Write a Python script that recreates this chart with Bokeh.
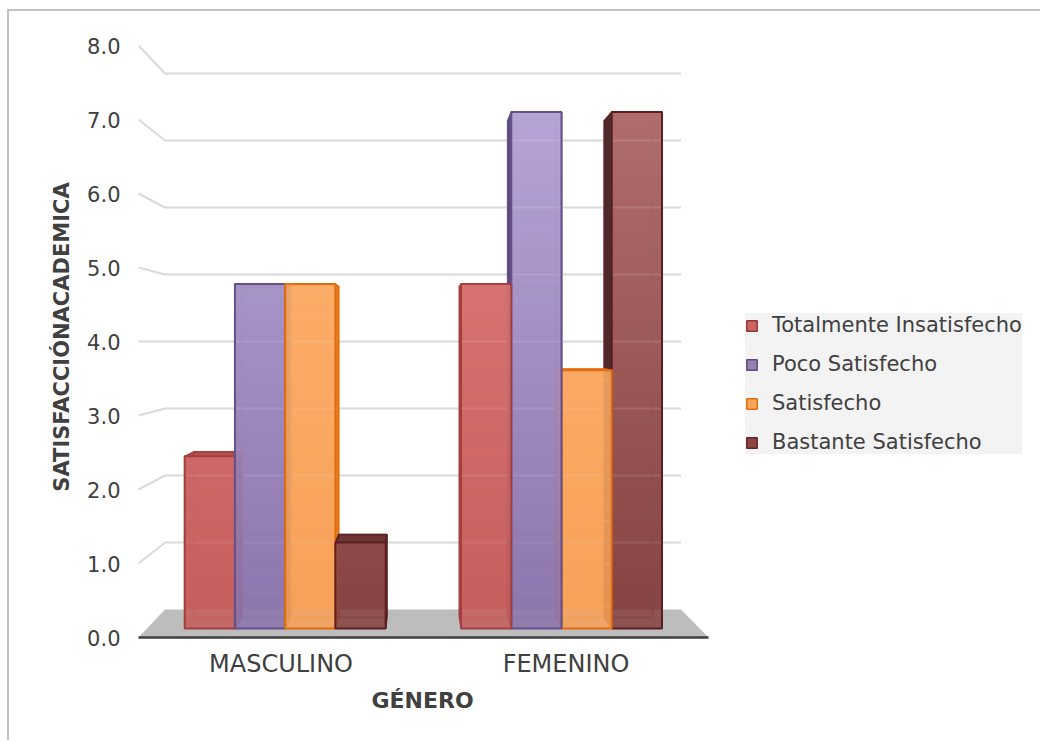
import numpy as np
from bokeh.plotting import figure
from bokeh.models import (Range1d, FixedTicker, NumeralTickFormatter, Legend,
                          LegendItem, Title)
from bokeh.embed import file_html
from bokeh.resources import INLINE

# ---- data -------------------------------------------------------------
categories = ["MASCULINO", "FEMENINO"]
series_names = ["Totalmente Insatisfecho", "Poco Satisfecho", "Satisfecho",
                "Bastante Satisfecho"]
totalmente_insatisfecho = [2.4, 4.8]
poco_satisfecho = [4.8, 7.2]
satisfecho = [4.8, 3.6]
bastante_satisfecho = [1.2, 7.2]
y_ticks = [0, 1, 2, 3, 4, 5, 6, 7, 8]

series_values = [totalmente_insatisfecho, poco_satisfecho, satisfecho,
                 bastante_satisfecho]

# ---- styling ------------------------------------------------------------
# gradient from the floor (dark) to the top of the axis (light), plus edges
styles = [
    dict(dark="#c45d5c", light="#e68484", edge="#a33f3d", side="#9c4544",
         top="#b4504e", legend="#cd6563", legend_edge="#943634"),
    dict(dark="#8a73aa", light="#c1aee0", edge="#64508a", side="#5b4a78",
         top="#7e689e", legend="#9580b2", legend_edge="#5f497a"),
    dict(dark="#f7a058", light="#fcb676", edge="#e46c0a", side="#e5852c",
         top="#f39a4c", legend="#f9a65a", legend_edge="#e46c0a"),
    dict(dark="#864343", light="#bb7878", edge="#5c1f1f", side="#4e2b2b",
         top="#6e3434", legend="#8b4646", legend_edge="#632523"),
]
FONT = "DejaVu Sans"
TEXT = "#404040"

# ---- simple perspective box model --------------------------------------
BAR_W = 1 / 5.5          # bar width in category units
Z_FRONT, Z_BACK = 0.3, 0.7
PERSP = 0.1045
VP_U, VP_V = 0.4825, 4.0
U_MIN, U_MAX = -0.5, 1.5


def project(u, v, z):
    s = 1.0 / (1.0 + PERSP * z)
    return VP_U + (u - VP_U) * s, VP_V + (v - VP_V) * s


def hexmix(c1, c2, t):
    a = np.array([int(c1[i:i + 2], 16) for i in (1, 3, 5)], float)
    b = np.array([int(c2[i:i + 2], 16) for i in (1, 3, 5)], float)
    c = a + (b - a) * t
    return "#%02x%02x%02x" % tuple(int(round(x)) for x in c)


p = figure(width=1033, height=731, output_backend="svg", toolbar_location=None,
           x_range=Range1d(-0.5351, 2.6719), y_range=Range1d(-0.054, 8.1757),
           min_border_left=119, min_border_top=21, min_border_right=0,
           min_border_bottom=101)
p.styles = {"margin-left": "7px", "margin-top": "9px",
            "border-left": "2px solid #c3c3c3", "border-top": "2px solid #c3c3c3"}
p.outline_line_color = None
p.grid.visible = False
p.background_fill_color = "white"
p.border_fill_color = "white"

# axes
p.yaxis.ticker = FixedTicker(ticks=y_ticks)
p.yaxis.formatter = NumeralTickFormatter(format="0.0")
p.xaxis.ticker = FixedTicker(ticks=[0, 1])
p.xaxis.major_label_overrides = {0: categories[0], 1: categories[1]}
for ax in (p.xaxis, p.yaxis):
    ax.axis_line_color = None
    ax.major_tick_line_color = None
    ax.minor_tick_line_color = None
    ax.major_label_text_font = FONT
    ax.major_label_text_color = TEXT
    ax.axis_label_text_font = FONT
    ax.axis_label_text_font_style = "bold"
    ax.axis_label_text_color = TEXT
p.yaxis.major_label_text_font_size = "21px"
p.yaxis.major_label_standoff = 2
p.yaxis.axis_label = "SATISFACCIÓNACADEMICA"
p.yaxis.axis_label_text_font_size = "21px"
p.yaxis.axis_label_standoff = 10
p.xaxis.major_label_text_font_size = "24px"
p.xaxis.major_label_standoff = 2

# horizontal axis title, centred under the floor of the chart
x_title = Title(text="GÉNERO", align="left", offset=243, standoff=10,
                text_font=FONT, text_font_size="22px", text_font_style="bold",
                text_color=TEXT)
p.add_layout(x_title, "below")

# legend colour swatches double as an opaque base under each front face
base_renderers = []
for k in range(len(series_names)):
    lefts, rights, bottoms, tops = [], [], [], []
    for g in range(len(categories)):
        u0 = g - 2 * BAR_W + k * BAR_W
        a = project(u0, 0, Z_FRONT)
        b = project(u0 + BAR_W, series_values[k][g], Z_FRONT)
        lefts.append(a[0]); rights.append(b[0])
        bottoms.append(a[1]); tops.append(b[1])
    r = p.quad(left=lefts, right=rights, bottom=bottoms, top=tops,
               fill_color=styles[k]["legend"], line_color=styles[k]["legend_edge"],
               line_width=1.5)
    base_renderers.append(r)

# side and back wall gridlines
gx, gy = [], []
for t in y_ticks[1:]:
    a = project(U_MIN, t, 0)
    b = project(U_MIN, t, 1)
    c = project(U_MAX, t, 1)
    gx.append([a[0], b[0], c[0]])
    gy.append([a[1], b[1], c[1]])
p.multi_line(gx, gy, line_color="#d9d9d9", line_width=2)

# floor
fl = [project(U_MIN, 0, 0), project(U_MAX, 0, 0), project(U_MAX, 0, 1),
      project(U_MIN, 0, 1)]
p.patch([q[0] for q in fl], [q[1] for q in fl], fill_color="#bdbdbd",
        line_color=None)
p.line([fl[0][0], fl[1][0]], [fl[0][1], fl[1][1]], line_color="#3f3f3f",
       line_width=2.5)

# bars: painter order, outermost first on each side of the vanishing point
bars = []
for g in range(len(categories)):
    for k in range(len(series_names)):
        u0 = g - 2 * BAR_W + k * BAR_W
        bars.append((g, k, u0, u0 + BAR_W, series_values[k][g]))
left = sorted([b for b in bars if (b[2] + b[3]) / 2 < VP_U], key=lambda b: b[2])
right = sorted([b for b in bars if (b[2] + b[3]) / 2 >= VP_U], key=lambda b: -b[2])

for g, k, u0, u1, val in left + right:
    st = styles[k]
    fb = [project(u0, 0, Z_FRONT), project(u1, 0, Z_FRONT),
          project(u1, val, Z_FRONT), project(u0, val, Z_FRONT)]
    bb = [project(u0, 0, Z_BACK), project(u1, 0, Z_BACK),
          project(u1, val, Z_BACK), project(u0, val, Z_BACK)]
    # visible side face
    if (u0 + u1) / 2 < VP_U:
        side = [fb[1], bb[1], bb[2], fb[2]]
    else:
        side = [fb[0], bb[0], bb[3], fb[3]]
    p.patch([q[0] for q in side], [q[1] for q in side], fill_color=st["side"],
            line_color=st["edge"], line_width=1.5)
    # top face when it lies below eye level
    if val < VP_V:
        top = [fb[3], fb[2], bb[2], bb[3]]
        p.patch([q[0] for q in top], [q[1] for q in top], fill_color=st["top"],
                line_color=st["edge"], line_width=1.5)
    # rear edges seen through the translucent front face
    p.quad(left=bb[0][0], right=bb[1][0], bottom=bb[0][1], top=bb[2][1],
           fill_color=None, line_color=st["edge"], line_alpha=0.55, line_width=1.5)
    # front face with vertical gradient
    n = max(2, int(round(val / 0.15)))
    edges = np.linspace(0, val, n + 1)
    bots = [project(u0, e, Z_FRONT)[1] for e in edges[:-1]]
    tops = [project(u0, e, Z_FRONT)[1] for e in edges[1:]]
    cols = [hexmix(st["dark"], st["light"], ((a + b) / 2) / 8.0)
            for a, b in zip(edges[:-1], edges[1:])]
    p.quad(left=fb[0][0], right=fb[1][0], bottom=bots, top=tops,
           fill_color=cols, fill_alpha=0.88, line_color=cols, line_alpha=0.88,
           line_width=0.5)
    p.quad(left=fb[0][0], right=fb[1][0], bottom=fb[0][1], top=fb[2][1],
           fill_color=None, line_color=st["edge"], line_width=2)

# legend
items = [LegendItem(label=name, renderers=[base_renderers[k]])
         for k, name in enumerate(series_names)]
legend = Legend(items=items, location=(617, 187), orientation="vertical",
                label_text_font=FONT, label_text_font_size="21px",
                label_text_color=TEXT, label_height=20, glyph_width=13,
                glyph_height=13, label_standoff=14, spacing=15, padding=9,
                margin=0, background_fill_color="#f3f3f3",
                background_fill_alpha=1.0, border_line_color=None)
p.add_layout(legend, "center")

open("out.html", "w").write(file_html(p, INLINE))
